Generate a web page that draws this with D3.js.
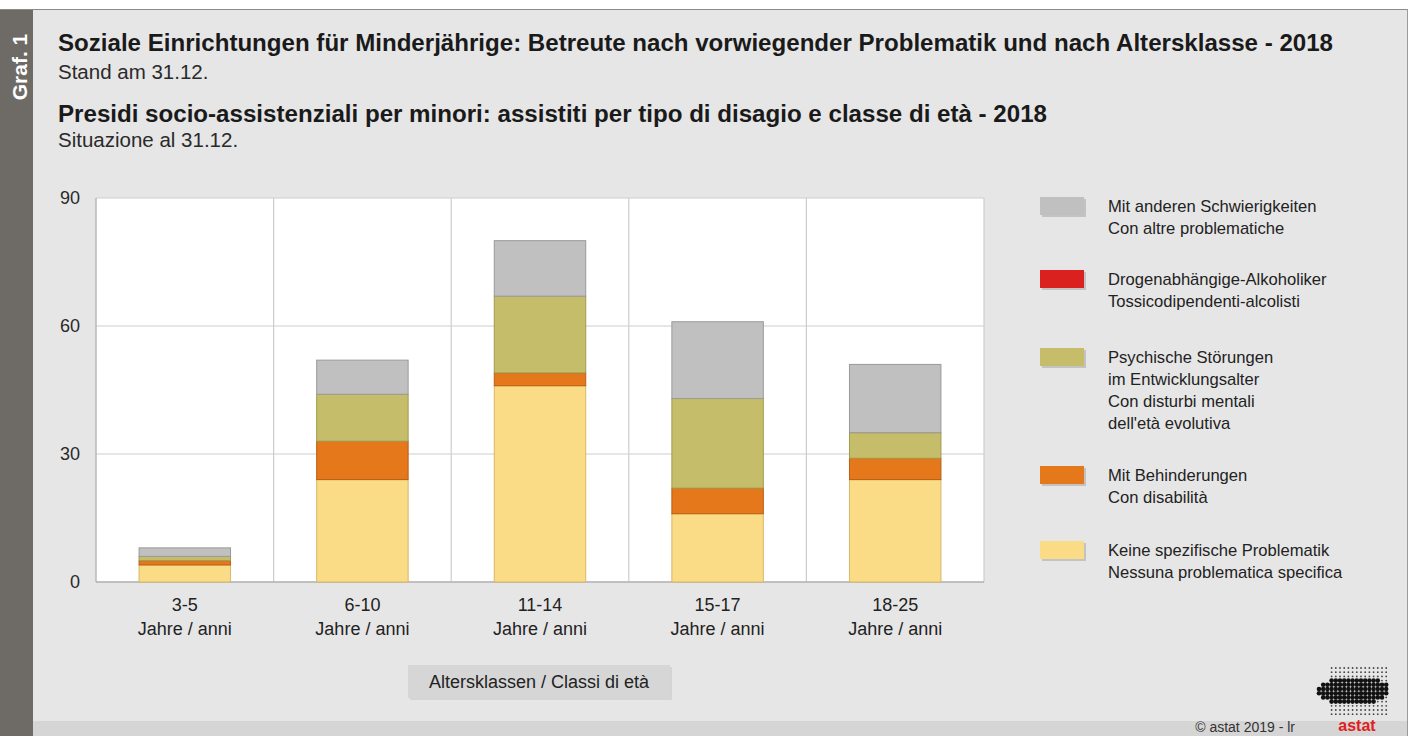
<!DOCTYPE html>
<html><head><meta charset="utf-8">
<script src="https://cdn.jsdelivr.net/npm/d3@7"></script>
<style>body{margin:0;background:#fff}svg{display:block;font-family:"Liberation Sans",Arial,sans-serif}</style>
</head><body>
<svg id="c" width="1410" height="736"></svg>
<script>
const categories = ["3-5", "6-10", "11-14", "15-17", "18-25"];
const catSuffix = "Jahre / anni";
const seriesKeys = ["keine", "behind", "psych", "drogen", "andere"];
const keine  = [4, 24, 46, 16, 24];
const behind = [1, 9, 3, 6, 5];
const psych  = [1, 11, 18, 21, 6];
const drogen = [0, 0, 0, 0, 0];
const andere = [2, 8, 13, 18, 16];
const yTicks = [0, 30, 60, 90];
const legendItems = [
  {key:"andere", lines:["Mit anderen Schwierigkeiten","Con altre problematiche"]},
  {key:"drogen", lines:["Drogenabhängige-Alkoholiker","Tossicodipendenti-alcolisti"]},
  {key:"psych", lines:["Psychische Störungen","im Entwicklungsalter","Con disturbi mentali","dell'età evolutiva"]},
  {key:"behind", lines:["Mit Behinderungen","Con disabilità"]},
  {key:"keine", lines:["Keine spezifische Problematik","Nessuna problematica specifica"]}
];
const colors = {keine:"#fadb86", behind:"#e5781b", psych:"#c5bd69", drogen:"#db2120", andere:"#c0c0c0"};
const strokes = {keine:"#d8b868", behind:"#b85e14", psych:"#a19a50", drogen:"#a51515", andere:"#9a9a9a"};

const svg = d3.select("#c");
// background
svg.append("rect").attr("x",0).attr("y",0).attr("width",1410).attr("height",736).attr("fill","#fff");
svg.append("rect").attr("x",0).attr("y",9).attr("width",1408).attr("height",727).attr("fill","#e6e6e6");
svg.append("line").attr("x1",0).attr("x2",1408).attr("y1",9.5).attr("y2",9.5).attr("stroke","#8a8a8a");
svg.append("line").attr("x1",1407.5).attr("x2",1407.5).attr("y1",9).attr("y2",736).attr("stroke","#9a9a9a");
svg.append("rect").attr("x",33).attr("y",721).attr("width",1374).attr("height",15).attr("fill","#d5d5d5");
svg.append("rect").attr("x",0).attr("y",10).attr("width",33).attr("height",726).attr("fill","#6e6b67");
svg.append("text").attr("transform","translate(27,67) rotate(-90)").attr("text-anchor","middle")
  .attr("fill","#fff").attr("font-weight","bold").attr("font-size",21).text("Graf. 1");

// titles
const t = svg.append("g").attr("fill","#1a1a1a");
t.append("text").attr("x",58).attr("y",51).attr("font-size",23.5).attr("font-weight","bold")
  .attr("textLength",1275).attr("lengthAdjust","spacingAndGlyphs")
  .text("Soziale Einrichtungen für Minderjährige: Betreute nach vorwiegender Problematik und nach Altersklasse - 2018");
t.append("text").attr("x",58).attr("y",79).attr("font-size",20.5).attr("fill","#2a2a2a").text("Stand am 31.12.");
t.append("text").attr("x",58).attr("y",122).attr("font-size",23.5).attr("font-weight","bold")
  .attr("textLength",989).attr("lengthAdjust","spacingAndGlyphs")
  .text("Presidi socio-assistenziali per minori: assistiti per tipo di disagio e classe di età - 2018");
t.append("text").attr("x",58).attr("y",147).attr("font-size",20.5).attr("fill","#2a2a2a").text("Situazione al 31.12.");

// scales
const x = d3.scaleBand().domain(categories).range([96, 984]).paddingInner(0).paddingOuter(0);
const y = d3.scaleLinear().domain([0, 90]).range([582, 198]);
const barW = x.bandwidth() * 0.515;

svg.append("rect").attr("x",96).attr("y",198).attr("width",888).attr("height",384).attr("fill","#fff");
// gridlines
const grid = svg.append("g").attr("stroke","#cdcdcd").attr("stroke-width",1.2);
yTicks.forEach(v => grid.append("line").attr("x1",96).attr("x2",984).attr("y1",y(v)).attr("y2",y(v)));
categories.slice(1).forEach(c => grid.append("line").attr("x1",x(c)).attr("x2",x(c)).attr("y1",198).attr("y2",582));
grid.append("line").attr("x1",984).attr("x2",984).attr("y1",198).attr("y2",582);
svg.append("line").attr("x1",96).attr("x2",96).attr("y1",198).attr("y2",582).attr("stroke","#b5b5b5").attr("stroke-width",1.4);
svg.append("line").attr("x1",96).attr("x2",984).attr("y1",582).attr("y2",582).attr("stroke","#b5b5b5").attr("stroke-width",1.4);

// y axis
const yAxis = d3.axisLeft(y).tickValues(yTicks).tickSize(0).tickPadding(16);
const ya = svg.append("g").attr("transform","translate(96,0)").call(yAxis);
ya.select(".domain").remove();
ya.selectAll("text").attr("font-size",18).attr("fill","#2a2a2a").attr("font-family","Liberation Sans, Arial, sans-serif");

// stacked bars
const table = categories.map((c,i)=>({cat:c, keine:keine[i], behind:behind[i], psych:psych[i], drogen:drogen[i], andere:andere[i]}));
const stack = d3.stack().keys(seriesKeys)(table);
stack.forEach(layer => {
  svg.append("g").selectAll("rect").data(layer.filter(d=>d[1]-d[0]>0)).join("rect")
    .attr("x", d => x(d.data.cat) + (x.bandwidth()-barW)/2)
    .attr("width", barW)
    .attr("y", d => y(d[1]))
    .attr("height", d => y(d[0]) - y(d[1]))
    .attr("fill", colors[layer.key])
    .attr("stroke", strokes[layer.key]).attr("stroke-width",1);
});

// x labels
const xl = svg.append("g").attr("fill","#222").attr("font-size",18).attr("text-anchor","middle");
categories.forEach(c => {
  const cx = x(c) + x.bandwidth()/2;
  xl.append("text").attr("x",cx).attr("y",611).text(c);
  xl.append("text").attr("x",cx).attr("y",635).text(catSuffix);
});

// axis title box
svg.append("rect").attr("x",410).attr("y",667).attr("width",262).attr("height",33).attr("fill","#c4c4c4").attr("opacity",0.5);
svg.append("rect").attr("x",408).attr("y",665).attr("width",262).attr("height",33).attr("fill","#d6d6d6");
svg.append("text").attr("x",539).attr("y",688).attr("text-anchor","middle").attr("font-size",18).attr("fill","#222")
  .text("Altersklassen / Classi di età");

// legend
const legTops = [197, 270, 348, 466, 541];
const lg = svg.append("g");
legendItems.forEach((it,i) => {
  const ty = legTops[i];
  lg.append("rect").attr("x",1042).attr("y",ty+2).attr("width",44).attr("height",18).attr("fill","#999").attr("opacity",0.45);
  lg.append("rect").attr("x",1040).attr("y",ty).attr("width",44).attr("height",18).attr("fill",colors[it.key]);
  it.lines.forEach((ln,j) => {
    lg.append("text").attr("x",1108).attr("y",ty+15+j*22).attr("font-size",16.6).attr("fill","#222").text(ln);
  });
});

// footer
svg.append("text").attr("x",1295).attr("y",732).attr("text-anchor","end").attr("font-size",14).attr("fill","#333").text("©  astat 2019 - lr");
svg.append("text").attr("x",1357).attr("y",731).attr("text-anchor","middle").attr("font-size",16).attr("font-weight","bold").attr("fill","#e02020").text("astat");
// logo dots (decorative)
const logo = svg.append("g").attr("fill","#111");
for (let r=0;r<12;r++) for (let c=0;c<19;c++){
  const px = 1319 + c*4.2, py = 668 + r*4.2;
  const dx = (px-1354)/36, dy = (py-691)/14;
  const blob = dx*dx + dy*dy < 1 && !(px>1335 && px<1352 && py<679);
  const halo = (px>1330 && px<1390 && py<717) && !blob;
  if (blob) logo.append("circle").attr("cx",px).attr("cy",py).attr("r",2.3);
  else if (halo) logo.append("circle").attr("cx",px).attr("cy",py).attr("r",0.9).attr("fill","#444");
}
</script>
</body></html>
